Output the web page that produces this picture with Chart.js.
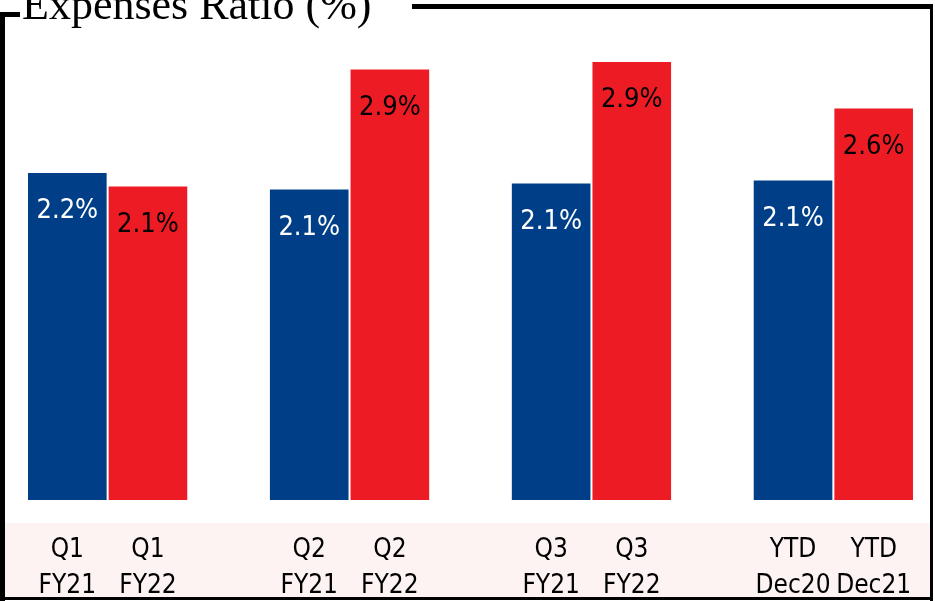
<!DOCTYPE html>
<html>
<head>
<meta charset="utf-8">
<script src="https://cdn.jsdelivr.net/npm/chart.js@4"></script>
<style>
  html, body { margin: 0; padding: 0; background: #fff; }
  #wrap { position: relative; width: 935px; height: 601px; overflow: hidden; }
  #chart { position: absolute; left: 0; top: 0; }
  #title {
    position: absolute; left: 20px; top: -17px; padding: 0 8px 0 2px;
    background: #fff; font-family: "Liberation Serif", "DejaVu Serif", serif;
    font-size: 44px; color: #000; white-space: nowrap; line-height: 44px;
  }
</style>
</head>
<body>
<div id="wrap">
  <canvas id="chart" width="935" height="601"></canvas>
  <div id="title">Expenses Ratio (%)</div>
</div>
<script>
const periods = ["Q1", "Q2", "Q3", "YTD"];
const priorLabels = ["FY21", "FY21", "FY21", "Dec20"];
const currentLabels = ["FY22", "FY22", "FY22", "Dec21"];
const priorValues = [2.18, 2.07, 2.11, 2.13];
const currentValues = [2.09, 2.87, 2.92, 2.61];

const blue = "#003f87";
const red = "#ed1c24";
const labelFont = "'Liberation Sans Narrow', 'DejaVu Sans Condensed', 'Noto Sans', sans-serif";

// two bars per period, one empty slot between periods
const labels = [];
const values = [];
const colors = [];
periods.forEach((p, i) => {
  if (i > 0) {
    labels.push("");
    values.push(null);
    colors.push("rgba(0,0,0,0)");
  }
  labels.push([p, priorLabels[i]]);
  values.push(priorValues[i]);
  colors.push(blue);
  labels.push([p, currentLabels[i]]);
  values.push(currentValues[i]);
  colors.push(red);
});

const framePlugin = {
  id: "frame",
  beforeDraw(chart) {
    const c = chart.ctx;
    c.save();
    c.fillStyle = "#fcf3f2";
    c.fillRect(5, 523, 925, 74);
    c.fillStyle = "#000";
    c.fillRect(0, 12, 20, 5);   // top-left stub
    c.fillRect(412, 4, 521, 5); // top line right of title
    c.fillRect(0, 12, 5, 589);  // left
    c.fillRect(930, 4, 3, 597); // right
    c.fillRect(0, 597, 933, 3); // bottom
    c.restore();
  }
};

const valueLabels = {
  id: "valueLabels",
  afterDatasetsDraw(chart) {
    const c = chart.ctx;
    const meta = chart.getDatasetMeta(0);
    c.save();
    c.font = "27px " + labelFont;
    c.textAlign = "center";
    c.textBaseline = "middle";
    meta.data.forEach((bar, i) => {
      const v = values[i];
      if (v == null) return;
      c.fillStyle = colors[i] === blue ? "#fff" : "#000";
      c.fillText(v.toFixed(1) + "%", bar.x, bar.y + 38);
    });
    c.restore();
  }
};

new Chart(document.getElementById("chart"), {
  type: "bar",
  data: {
    labels: labels,
    datasets: [{
      data: values,
      backgroundColor: colors,
      borderWidth: 0,
      barPercentage: 0.975,
      categoryPercentage: 1
    }]
  },
  options: {
    responsive: false,
    animation: false,
    layout: { padding: { left: 27, right: 21, top: 20, bottom: 0 } },
    plugins: {
      legend: { display: false },
      tooltip: { enabled: false }
    },
    scales: {
      x: {
        grid: { display: false },
        border: { display: false },
        afterFit(scale) {
          scale.height = 101;
          scale.paddingLeft = 0;
          scale.paddingRight = 0;
        },
        ticks: {
          color: "#000",
          padding: 24,
          autoSkip: false,
          maxRotation: 0,
          font: { family: labelFont, size: 26, lineHeight: 1.4 }
        }
      },
      y: {
        display: false,
        min: 0,
        max: 3.2
      }
    }
  },
  plugins: [framePlugin, valueLabels]
});
</script>
</body>
</html>
